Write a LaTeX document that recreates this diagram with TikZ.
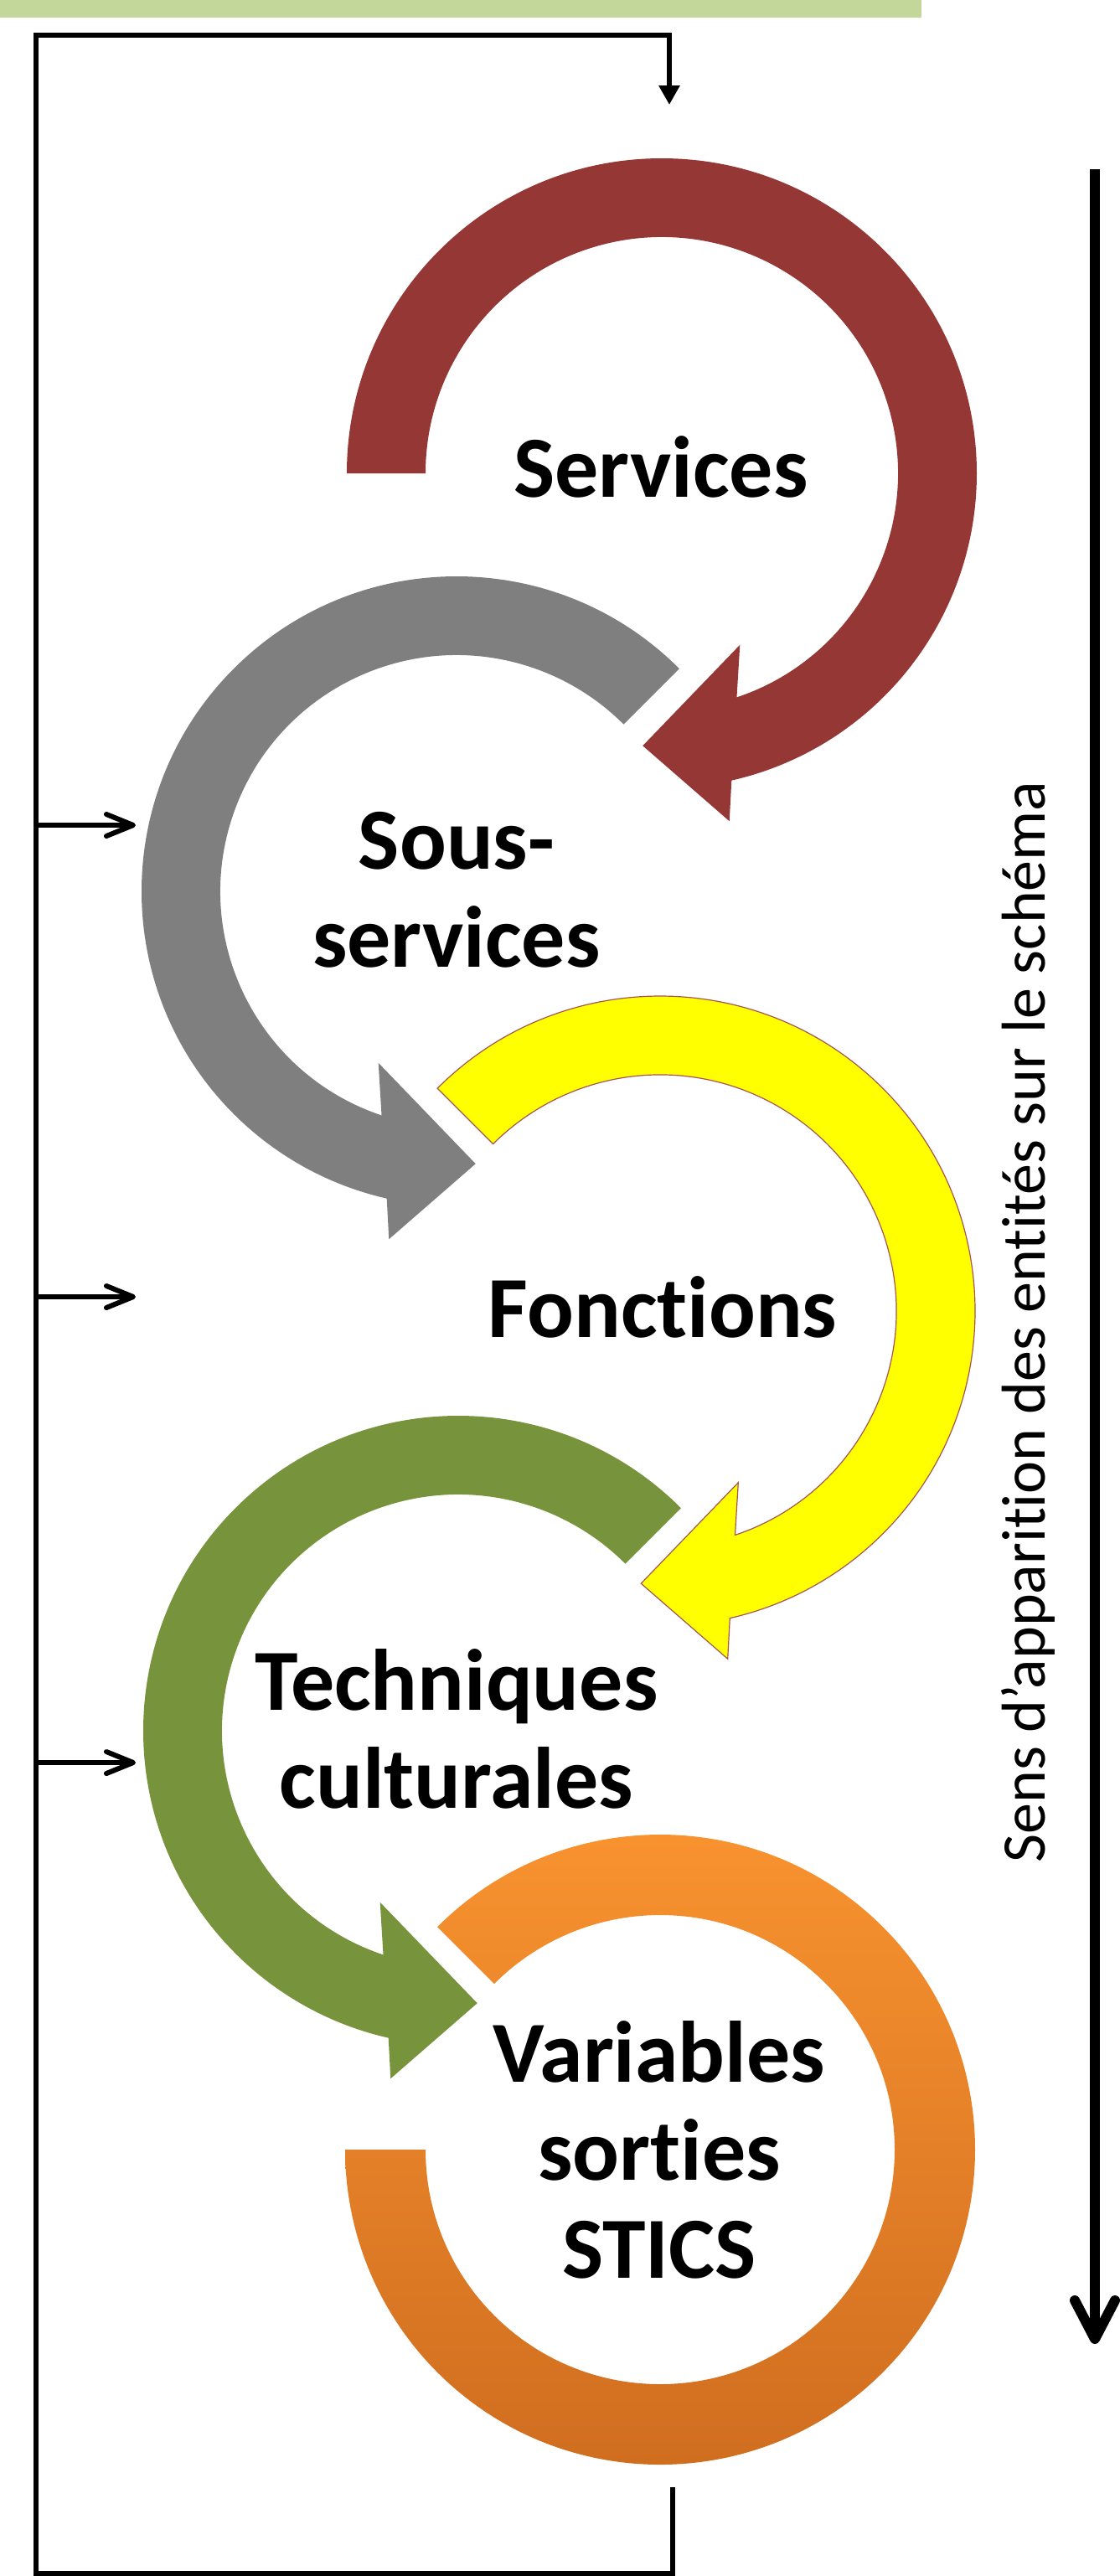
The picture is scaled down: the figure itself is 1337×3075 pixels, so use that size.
\documentclass[tikz,border=0pt]{standalone}
\usepackage{fontspec}
\setmainfont{Carlito}[Ligatures={TeX,NoCommon}]
\usepackage{tikz}
\usetikzlibrary{arrows.meta,calc}

\definecolor{rouge}{RGB}{149,55,53}
\definecolor{gris}{RGB}{127,127,127}
\definecolor{jaune}{RGB}{255,255,0}
\definecolor{vert}{RGB}{119,147,60}
\definecolor{orangeH}{RGB}{250,148,48}
\definecolor{orangeB}{RGB}{206,108,31}
\definecolor{bandeau}{RGB}{196,215,155}

\begin{document}
\begin{tikzpicture}[x=0.5pt,y=0.5pt,
    lien/.style={line width=3pt},
    fleche/.style={line width=3pt,-{Straight Barb[length=16pt,width=13pt,round]}},
    sens/.style={line width=6pt,-{Straight Barb[length=23pt,width=24pt,round]}},
    etiquette/.style={font=\fontsize{52}{58.5}\selectfont\bfseries,align=center}]
  \useasboundingbox (0,0) rectangle (1337,-3075);

  % bandeau en haut
  \fill[bandeau] (0,0) rectangle (1100,-21);

  % centres des anneaux
  \coordinate (cS) at (790,-565);
  \coordinate (cSS) at (545,-1064);
  \coordinate (cF) at (788,-1565);
  \coordinate (cT) at (547,-2066);
  \coordinate (cV) at (788,-2566);

  % anneaux
  \fill[rouge] ($(cS)+(180:376)$) arc[start angle=180,end angle=-77.2,radius=376]
     -- ($(cS)+(-79:423)$) -- ($(cS)+(-94:326)$) -- ($(cS)+(-65.5:225)$)
     -- ($(cS)+(-71.5:282)$) arc[start angle=-71.5,end angle=180,radius=282] -- cycle;
  \fill[gris] ($(cSS)+(45:376)$) arc[start angle=45,end angle=257.2,radius=376]
     -- ($(cSS)+(259:423)$) -- ($(cSS)+(274:326)$) -- ($(cSS)+(245.5:225)$)
     -- ($(cSS)+(251.5:282)$) arc[start angle=251.5,end angle=45,radius=282] -- cycle;
  \filldraw[fill=jaune,draw=rouge!85,line width=0.6pt] ($(cF)+(135:376)$) arc[start angle=135,end angle=-77.2,radius=376]
     -- ($(cF)+(-79:423)$) -- ($(cF)+(-94:326)$) -- ($(cF)+(-65.5:225)$)
     -- ($(cF)+(-71.5:282)$) arc[start angle=-71.5,end angle=135,radius=282] -- cycle;
  \fill[vert] ($(cT)+(45:376)$) arc[start angle=45,end angle=257.2,radius=376]
     -- ($(cT)+(259:423)$) -- ($(cT)+(274:326)$) -- ($(cT)+(245.5:225)$)
     -- ($(cT)+(251.5:282)$) arc[start angle=251.5,end angle=45,radius=282] -- cycle;
  \shade[top color=orangeH,bottom color=orangeB] ($(cV)+(135:376)$) arc[start angle=135,end angle=-180,radius=376]
     -- ($(cV)+(180:280)$) arc[start angle=-180,end angle=135,radius=280] -- cycle;

  % textes
  \node[etiquette] (services) at (789,-557) {Services};
  \node[etiquette] (sousservices) at (545,-1062) {Sous-\\services};
  \node[etiquette] (fonctions) at (791,-1560) {Fonctions};
  \node[etiquette] (techniques) at (545,-2064) {Techniques\\culturales};
  \node[etiquette] (variables) at (787,-2566) {Variables\\sorties\\STICS};
  \node[rotate=90,anchor=base,font=\fontsize{37}{44}\selectfont] (apparition) at (1247,-1578)
     {Sens d’apparition des entités sur le schéma};

  % boucle de retour
  \coordinate (sortie) at (803,-2969);
  \coordinate (basD) at (803,-3072);
  \coordinate (basG) at (43,-3072);
  \coordinate (hautG) at (43,-42);
  \coordinate (hautD) at (799,-42);
  \coordinate (entree) at (799,-125);
  \draw[lien,-{Triangle[length=11.5pt,width=12pt]}] (sortie) -- (basD) -- (basG) -- (hautG) -- (hautD) -- (entree);

  \coordinate (g1) at (43,-985);   \coordinate (d1) at (162,-985);
  \coordinate (g2) at (43,-1548);  \coordinate (d2) at (162,-1548);
  \coordinate (g3) at (43,-2104);  \coordinate (d3) at (162,-2104);
  \draw[fleche] (g1) -- (d1);
  \draw[fleche] (g2) -- (d2);
  \draw[fleche] (g3) -- (d3);

  % sens de lecture
  \coordinate (sensH) at (1307,-202);
  \coordinate (sensB) at (1307,-2798);
  \draw[sens] (sensH) -- (sensB);
\end{tikzpicture}
\end{document}
